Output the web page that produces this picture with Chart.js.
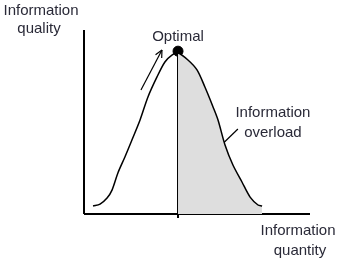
<!DOCTYPE html>
<html>
<head>
<meta charset="utf-8">
<script src="https://cdn.jsdelivr.net/npm/chart.js"></script>
<style>
  body { margin: 0; background: #fff; }
  canvas { display: block; }
</style>
</head>
<body>
<canvas id="grafico" width="341" height="264"></canvas>
<script>
// curve (x: quantity, y: quality)
const curvaX = [4.0, 7.1, 10.2, 12.4, 15.0, 18.1, 21.2, 24.8, 28.3, 32.3, 35.8, 38.9, 41.6, 46.0, 50.0, 53.5, 57.1, 59.3, 62.4, 65.9, 69.9, 73.5, 77.0, 78.8];
const curvaY = [4.3, 5.4, 8.7, 13.0, 22.3, 31.0, 40.2, 51.1, 63.6, 74.5, 82.6, 86.4, 87.5, 83.7, 78.3, 69.0, 58.2, 51.1, 37.5, 26.6, 17.4, 9.2, 4.9, 4.3];
const picoIdx = 12;

const setaX = [25.2, 34.5];
const setaY = [67.4, 89.1];
const ponteiroX = [54.4, 68.1];
const ponteiroY = [29.9, 46.2];

const tituloY = ['Information', 'quality'];
const tituloX = ['Information', 'quantity'];
const rotuloPico = 'Optimal';
const rotuloSobrecarga = ['Information', 'overload'];

const pontos = curvaX.map((x, i) => ({ x: x, y: curvaY[i] }));
const pico = pontos[picoIdx];

const corTexto = '#2a2a38';
const fonte = '15px "Liberation Sans", Arial, sans-serif';

const textos = {
  id: 'textos',
  afterDatasetsDraw(chart) {
    const ctx = chart.ctx;
    const xs = chart.scales.x, ys = chart.scales.y;
    ctx.save();
    ctx.fillStyle = corTexto;
    ctx.font = fonte;
    ctx.textAlign = 'center';
    ctx.textBaseline = 'middle';

    // axis titles
    const x0 = xs.getPixelForValue(0), y100 = ys.getPixelForValue(100), y0 = ys.getPixelForValue(0);
    ctx.fillText(tituloY[0], x0 - 43, y100 - 19);
    ctx.fillText(tituloY[1], x0 - 45, y100 - 1);
    const xFim = xs.getPixelForValue(100);
    ctx.fillText(tituloX[0], xFim - 12, y0 + 17);
    ctx.fillText(tituloX[1], xFim - 10, y0 + 37);

    // labels
    ctx.fillText(rotuloPico, xs.getPixelForValue(pico.x), ys.getPixelForValue(pico.y) - 16);
    ctx.fillText(rotuloSobrecarga[0], xs.getPixelForValue(83.6), ys.getPixelForValue(54.9));
    ctx.fillText(rotuloSobrecarga[1], xs.getPixelForValue(83.6), ys.getPixelForValue(44));

    // arrow head
    const px = xs.getPixelForValue(setaX[1]), py = ys.getPixelForValue(setaY[1]);
    const qx = xs.getPixelForValue(setaX[0]), qy = ys.getPixelForValue(setaY[0]);
    const ang = Math.atan2(py - qy, px - qx);
    ctx.strokeStyle = '#000';
    ctx.lineWidth = 1.2;
    ctx.beginPath();
    [0.45, -0.45].forEach(d => {
      ctx.moveTo(px, py);
      ctx.lineTo(px - 8 * Math.cos(ang + d), py - 8 * Math.sin(ang + d));
    });
    ctx.stroke();
    ctx.restore();
  }
};

const linha = (dados, extra) => Object.assign({
  data: dados, borderColor: '#000', borderWidth: 1.5, pointRadius: 0,
  fill: false, clip: false, showLine: true
}, extra);

new Chart(document.getElementById('grafico'), {
  type: 'scatter',
  data: {
    datasets: [
      linha(pontos, {
        tension: 0.3,
        fill: 'origin',
        backgroundColor: 'rgba(0,0,0,0)',
        segment: {
          backgroundColor: c => c.p0DataIndex >= picoIdx ? '#dedede' : 'rgba(0,0,0,0)'
        }
      }),
      linha([{ x: 0, y: 0 }, { x: 100, y: 0 }], { borderWidth: 2 }),
      linha([{ x: 0, y: 0 }, { x: 0, y: 100 }], { borderWidth: 2 }),
      linha([{ x: pico.x, y: pico.y }, { x: pico.x, y: -2.2 }], { borderWidth: 2 }),
      linha(setaX.map((x, i) => ({ x: x, y: setaY[i] })), { borderWidth: 1.2 }),
      linha(ponteiroX.map((x, i) => ({ x: x, y: ponteiroY[i] })), { borderWidth: 1.2 }),
      { data: [{ x: pico.x, y: pico.y + 1 }], showLine: false, pointRadius: 5, pointBackgroundColor: '#000', pointBorderColor: '#000', clip: false }
    ]
  },
  options: {
    responsive: false,
    animation: false,
    layout: { padding: { left: 84, right: 31, top: 30, bottom: 31.6 } },
    plugins: { legend: { display: false }, tooltip: { enabled: false } },
    scales: {
      x: { type: 'linear', min: 0, max: 100, display: false },
      y: { type: 'linear', min: -10, max: 100, display: false }
    }
  },
  plugins: [textos]
});
</script>
</body>
</html>
